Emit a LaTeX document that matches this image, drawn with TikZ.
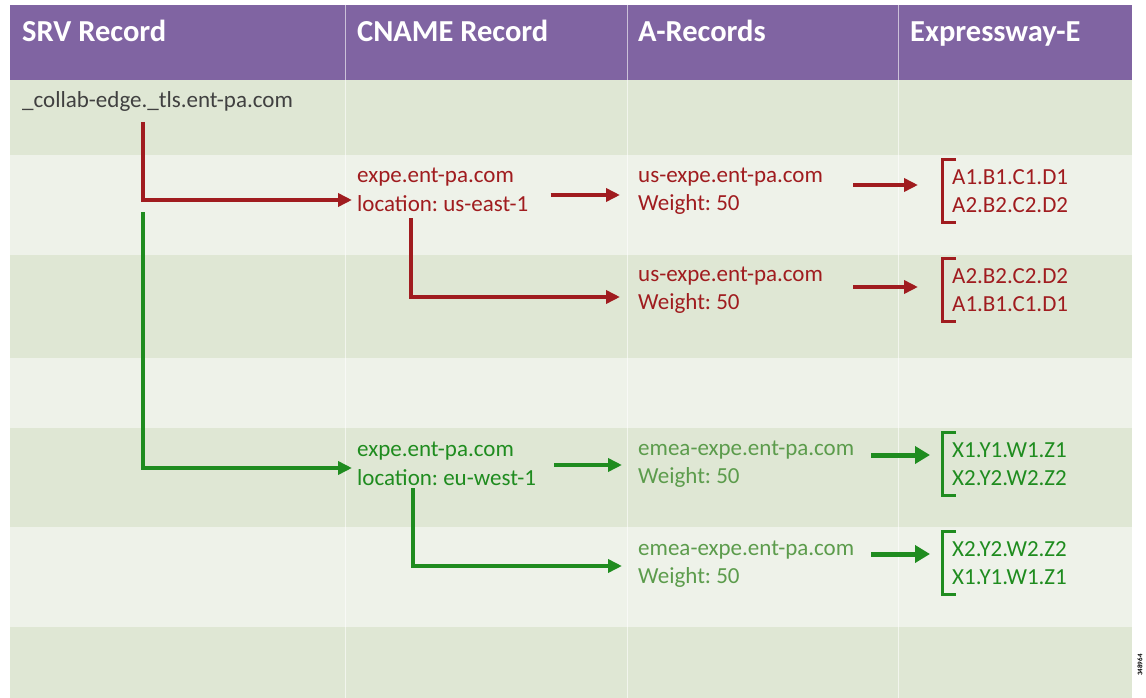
\documentclass[tikz,border=0pt]{standalone}
\usepackage{fontspec}
\setmainfont{Carlito}
\usetikzlibrary{arrows.meta}
\frenchspacing

\definecolor{hdrpurple}{HTML}{8064A2}
\definecolor{rowdark}{HTML}{DFE7D4}
\definecolor{rowlight}{HTML}{EEF2E9}
\definecolor{usred}{HTML}{A01C1F}
\definecolor{eugreen}{HTML}{1F8C1F}
\definecolor{eulight}{HTML}{5C9C4C}
\definecolor{srvgray}{HTML}{404040}

\tikzset{
  hdr/.style={anchor=base west,inner sep=0pt,text=white,font=\fontsize{30.5}{36}\selectfont\bfseries},
  rec/.style={anchor=west,inner sep=0pt,align=left,font=\fontsize{23}{28.5}\selectfont},
  iplist/.style={rec,inner xsep=10pt,minimum height=62pt},
  usline/.style={usred,line width=3.5pt},
  euline/.style={eugreen,line width=3.5pt},
  usarrow/.style={usline,-{Triangle[length=14pt,width=13pt]}},
  euarrow/.style={euline,-{Triangle[length=14pt,width=13pt]}},
  eubig/.style={eugreen,line width=5pt,-{Triangle[length=15pt,width=17pt]}}
}

\begin{document}
\begin{tikzpicture}[x=1pt,y=-1pt]
\useasboundingbox (0,0) rectangle (1146,698);
\fill[white] (0,0) rectangle (1146,698);

% table
\fill[hdrpurple] (10,5) rectangle (1132,80);
\foreach \top/\bot/\c in {80/155/rowdark,155/255/rowlight,255/358/rowdark,358/428/rowlight,428/527/rowdark,527/627/rowlight,627/698/rowdark}
  \fill[\c] (10,\top) rectangle (1132,\bot);
\foreach \x in {345,627,898}
  \draw[white,line width=1pt,opacity=.6] (\x,5) -- (\x,698);

\node[hdr] (hsrv) at (22,42) {SRV Record};
\node[hdr] (hcname) at (357,42) {CNAME Record};
\node[hdr] (harec) at (638,42) {A-Records};
\node[hdr] (hexp) at (910,42) {Expressway-E};

% records
\node[rec,text=srvgray] (srv) at (22,101) {\_collab-edge.\_tls.ent-pa.com};

\node[rec,text=usred] (cnUS) at (357,190) {expe.ent-pa.com\\location: us-east-1};
\node[rec,text=usred] (aUS1) at (638,191) {us-expe.ent-pa.com\\Weight: 50};
\node[rec,text=usred] (aUS2) at (638,290) {us-expe.ent-pa.com\\Weight: 50};
\node[iplist,text=usred] (ipUS1) at (942,191) {A1.B1.C1.D1\\A2.B2.C2.D2};
\node[iplist,text=usred] (ipUS2) at (942,290) {A2.B2.C2.D2\\A1.B1.C1.D1};

\node[rec,text=eugreen] (cnEU) at (357,464) {expe.ent-pa.com\\location: eu-west-1};
\node[rec,text=eulight] (aEU1) at (638,464) {emea-expe.ent-pa.com\\Weight: 50};
\node[rec,text=eulight] (aEU2) at (638,564) {emea-expe.ent-pa.com\\Weight: 50};
\node[iplist,text=eugreen] (ipEU1) at (942,464) {X1.Y1.W1.Z1\\X2.Y2.W2.Z2};
\node[iplist,text=eugreen] (ipEU2) at (942,563) {X2.Y2.W2.Z2\\X1.Y1.W1.Z1};

\coordinate (usDrop) at (143,122);
\coordinate (euDrop) at (143,212);
\coordinate (usSplit) at (411,218);
\coordinate (euSplit) at (413,488);

% us-east path
\draw[usarrow,shorten >=5pt] (usDrop) |- ([yshift=-10pt]cnUS.west);
\draw[usarrow] ([xshift=22pt,yshift=-5pt]cnUS.east) -- ([xshift=-18pt,yshift=-5pt]cnUS.east -| aUS1.west);
\draw[usarrow] (usSplit) |- ([xshift=-18pt,yshift=-7pt]aUS2.west);
\draw[usarrow] ([xshift=30pt,yshift=6pt]aUS1.east) -- ([xshift=-24pt,yshift=6pt]aUS1.east -| ipUS1.west);
\draw[usarrow] ([xshift=30pt,yshift=3pt]aUS2.east) -- ([xshift=-24pt,yshift=3pt]aUS2.east -| ipUS2.west);

% eu-west path
\draw[euarrow,shorten >=5pt] (euDrop) |- ([yshift=-4pt]cnEU.west);
\draw[euarrow] ([xshift=18pt,yshift=-1pt]cnEU.east) -- ([xshift=-16pt,yshift=-1pt]cnEU.east -| aEU1.west);
\draw[euarrow] (euSplit) |- ([xshift=-16pt,yshift=-2pt]aEU2.west);
\draw[eubig] ([xshift=17pt,yshift=9pt]aEU1.east) -- ([xshift=-12pt,yshift=9pt]aEU1.east -| ipEU1.west);
\draw[eubig] ([xshift=17pt,yshift=10pt]aEU2.east) -- ([xshift=-12pt,yshift=10pt]aEU2.east -| ipEU2.west);

% brackets
\foreach \n/\c in {ipUS1/usred,ipUS2/usred,ipEU1/eugreen,ipEU2/eugreen}
  \draw[\c,line width=3pt] ([xshift=14pt]\n.north west) -| (\n.south west) -- ([xshift=14pt]\n.south west);

\node[rotate=90,inner sep=0pt,font=\fontsize{7}{8}\selectfont\bfseries] (fig) at (1140,665) {348964};
\end{tikzpicture}
\end{document}
